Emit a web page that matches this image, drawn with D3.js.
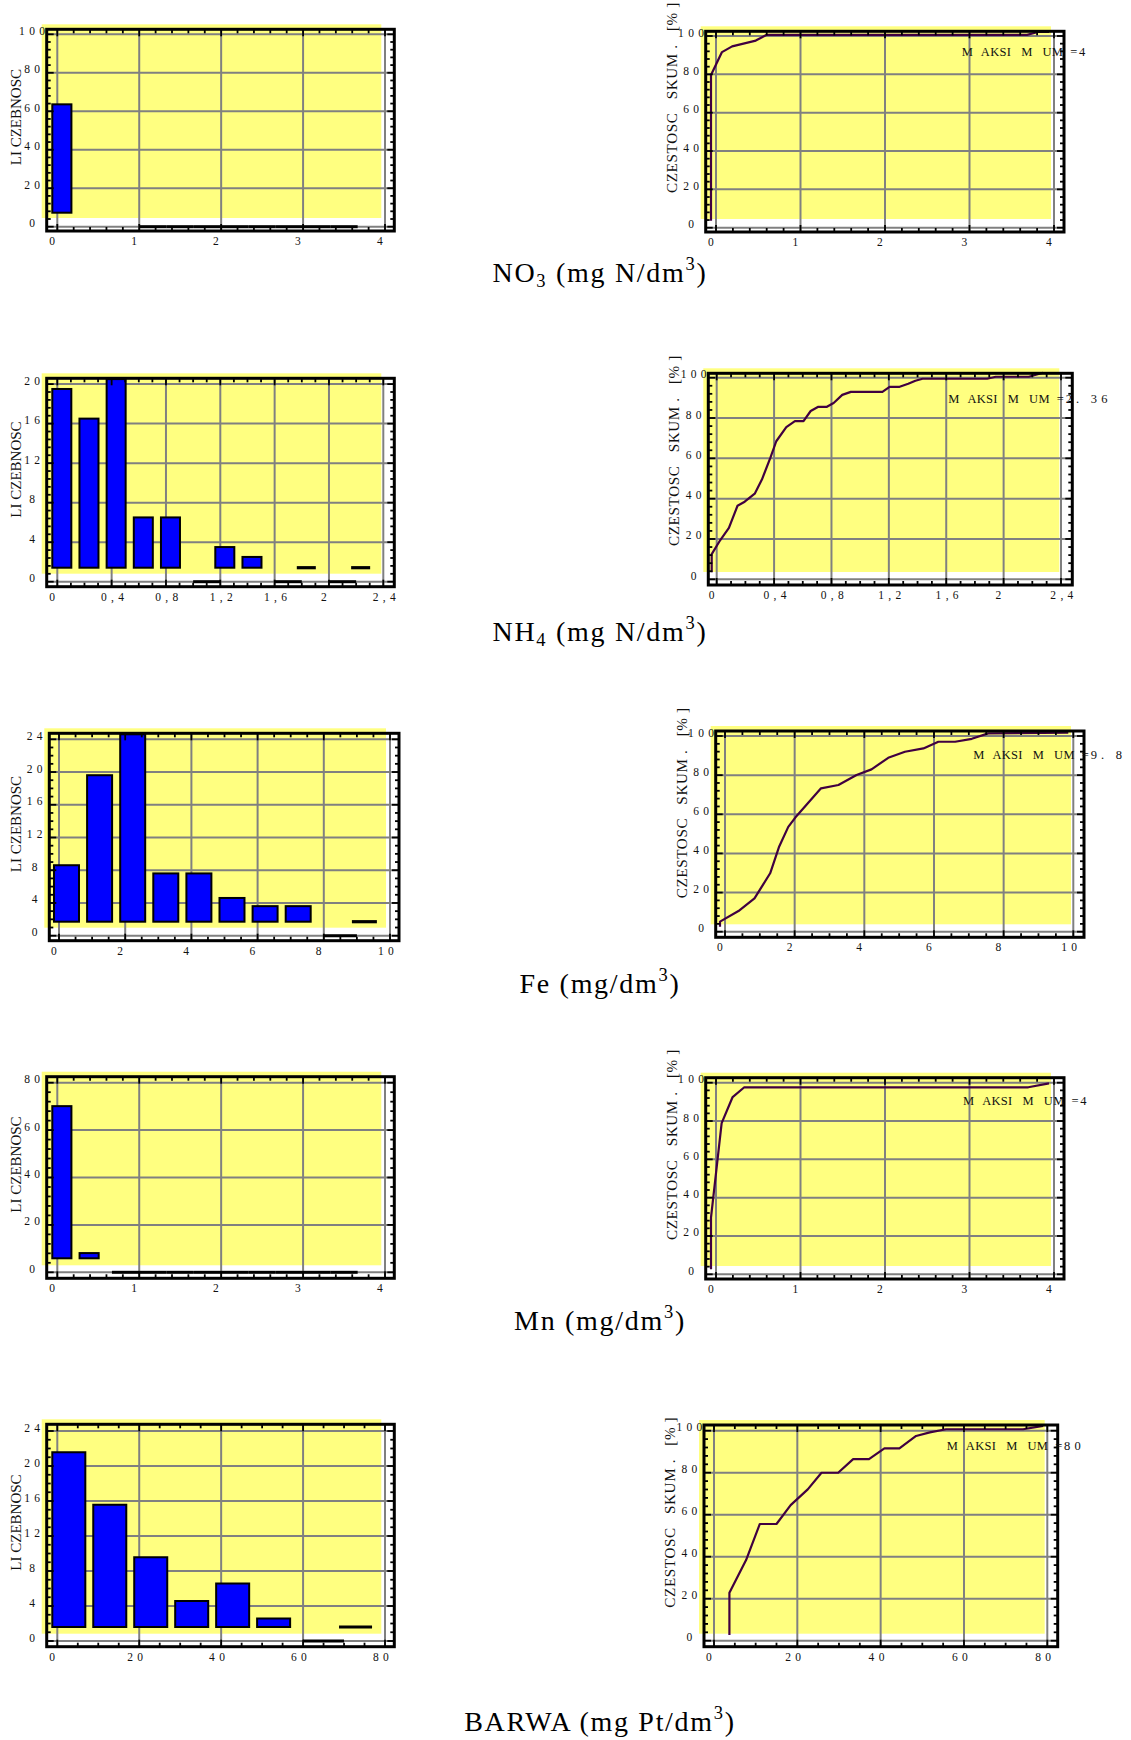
<!DOCTYPE html>
<html><head><meta charset="utf-8">
<script src="https://cdn.jsdelivr.net/npm/d3@7"></script>
<style>
html,body{margin:0;padding:0;background:#fff;}
svg{display:block;}
text{font-family:"Liberation Serif","Times New Roman",serif;white-space:pre;}
</style></head><body>
<svg id="chart" width="1131" height="1740"></svg>
<script>
// ================= DATA =================
// histogram bins (lower edges) and counts (null = bin not drawn)
const no3BinEdges = [0, 0.333, 0.667, 1, 1.333, 1.667, 2, 2.333, 2.667, 3, 3.333, 3.667];
const no3Counts   = [61, null, null, 0, 0, 0, 0, 0, 0, 0, 0, null];
const nh4BinEdges = [0, 0.2, 0.4, 0.6, 0.8, 1.0, 1.2, 1.4, 1.6, 1.8, 2.0, 2.2];
const nh4Counts   = [19, 16, 20, 6, 6, 0, 3, 2, 0, 1, 0, 1];
const feBinEdges  = [0, 1, 2, 3, 4, 5, 6, 7, 8, 9];
const feCounts    = [8, 19, 24, 7, 7, 4, 3, 3, 0, 1];
const mnBinEdges  = [0, 0.333, 0.667, 1, 1.333, 1.667, 2, 2.333, 2.667, 3, 3.333, 3.667];
const mnCounts    = [68, 6, 0, 0, 0, 0, 0, 0, 0, 0, 0, null];
const barwaBinEdges = [0, 10, 20, 30, 40, 50, 60, 70];
const barwaCounts   = [21, 15, 9, 4, 6, 2, 0, 1];

// cumulative frequency curves [%]
const no3CumX = [0, 0, 0.13, 0.25, 0.53, 0.66, 3.74, 3.87, 4.0];
const no3CumY = [1, 77, 89, 92, 95, 98, 98, 99.5, 99.5];
const nh4CumX = [0, 0, 0.06, 0.12, 0.18, 0.23, 0.3, 0.35, 0.41, 0.45, 0.52, 0.58, 0.64, 0.69, 0.74, 0.8, 0.85, 0.91, 0.97, 1.19, 1.24, 1.31, 1.37, 1.42, 1.47, 1.92, 1.98, 2.21, 2.31];
const nh4CumY = [1, 10, 17, 23, 34, 36, 40, 47, 58, 66, 73, 76, 76, 81, 83, 83, 85, 89, 90.5, 90.5, 93, 93, 94.5, 96, 97, 97, 98, 98, 100];
const feCumX = [0, 0, 0.53, 0.99, 1.44, 1.7, 1.96, 2.2, 2.9, 3.4, 3.92, 4.35, 4.83, 5.31, 5.84, 6.27, 6.75, 7.23, 7.7, 10.0];
const feCumY = [0, 2.6, 8, 14.5, 27.3, 41, 51, 56.6, 70.7, 72.4, 77.5, 80.4, 86.3, 89.4, 91.1, 94.5, 94.5, 96, 98.8, 99.1];
const mnCumX = [0, 0, 0.126, 0.256, 0.394, 3.755, 4.0];
const mnCumY = [0, 27, 76.3, 89.9, 95, 95, 97];
const barwaCumX = [4.9, 4.9, 8.9, 12.2, 16.2, 19.6, 23.7, 27.0, 31.0, 34.6, 38.4, 42.1, 45.7, 49.7, 53.0, 56.9, 75.4, 80.2];
const barwaCumY = [0.3, 20.5, 36, 53.2, 53.2, 62.2, 69.7, 77.6, 77.6, 84.1, 84.1, 89.2, 89.2, 95.1, 96.8, 98.3, 98.3, 99.9];

// axis ticks and labels
const no3XTicks = [0, 1, 2, 3, 4];            const no3XLabels = ["0","1","2","3","4"];
const nh4XTicks = [0, 0.4, 0.8, 1.2, 1.6, 2, 2.4]; const nh4XLabels = ["0","0,4","0,8","1,2","1,6","2","2,4"];
const feXTicks  = [0, 2, 4, 6, 8, 10];         const feXLabels  = ["0","2","4","6","8","10"];
const mnXTicks  = [0, 1, 2, 3, 4];             const mnXLabels  = ["0","1","2","3","4"];
const barwaXTicks = [0, 20, 40, 60, 80];       const barwaXLabels = ["0","20","40","60","80"];
const no3HistYTicks = [0, 20, 40, 60, 80, 100];
const nh4HistYTicks = [0, 4, 8, 12, 16, 20];
const feHistYTicks  = [0, 4, 8, 12, 16, 20, 24];
const mnHistYTicks  = [0, 20, 40, 60, 80];
const barwaHistYTicks = [0, 4, 8, 12, 16, 20, 24];
const cumYTicks = [0, 20, 40, 60, 80, 100];

const maxLabels = ["4", "2. 36", "9. 8", "4", "80"];
const histYTitle = "LI CZEBNOSC";
const cumYTitle = "CZESTOSC   SKUM .   [% ]";
const maxWords = ["M", " AKSI", " M", " UM", " ="];
const titles = [
  [["NO",""],["3","sub"],[" (mg N/dm",""],["3","sup"],[")",""]],
  [["NH",""],["4","sub"],[" (mg N/dm",""],["3","sup"],[")",""]],
  [["Fe (mg/dm",""],["3","sup"],[")",""]],
  [["Mn (mg/dm",""],["3","sup"],[")",""]],
  [["BARWA (mg Pt/dm",""],["3","sup"],[")",""]]
];

// ================= LAYOUT =================
const panels = [
  {edges:no3BinEdges, counts:no3Counts, bw:0.3333, barFrac:0.7,
   xT:no3XTicks, xL:no3XLabels, hyT:no3HistYTicks, hxSub:5, hySub:5, cxSub:5,
   cumX:no3CumX, cumY:no3CumY,
   hist:{l:46.7,t:29.3,r:394.3,b:231, x0:57.3,x1:385, y0:226.7,y1:34.3},
   cdf:{l:705.7,t:31.3,r:1064,b:232, x0:716,x1:1054, y0:227.7,y1:36},
   maxPos:[961.7,56], titleY:281.7},
  {edges:nh4BinEdges, counts:nh4Counts, bw:0.2, barFrac:0.7,
   xT:nh4XTicks, xL:nh4XLabels, hyT:nh4HistYTicks, hxSub:4, hySub:5, cxSub:4,
   cumX:nh4CumX, cumY:nh4CumY,
   hist:{l:46.7,t:378.3,r:394.3,b:586.7, x0:57.3,x1:383.3, y0:581.7,y1:384.1},
   cdf:{l:708.3,t:373.3,r:1072.3,b:585, x0:716.7,x1:1061, y0:579.3,y1:377.7},
   maxPos:[948.3,402.5], titleY:641},
  {edges:feBinEdges, counts:feCounts, bw:1, barFrac:0.755,
   xT:feXTicks, xL:feXLabels, hyT:feHistYTicks, hxSub:4, hySub:4, cxSub:4,
   cumX:feCumX, cumY:feCumY,
   hist:{l:49.3,t:733.3,r:399,b:940.7, x0:59,x1:390, y0:935.7,y1:739.3},
   cdf:{l:715.7,t:731,r:1084,b:937.3, x0:725,x1:1073.3, y0:931.7,y1:736},
   maxPos:[973.3,758.5], titleY:993},
  {edges:mnBinEdges, counts:mnCounts, bw:0.3333, barFrac:0.7,
   xT:mnXTicks, xL:mnXLabels, hyT:mnHistYTicks, hxSub:5, hySub:5, cxSub:5,
   cumX:mnCumX, cumY:mnCumY,
   hist:{l:46.7,t:1076.7,r:394.3,b:1278.3, x0:57.3,x1:385, y0:1272.3,y1:1082.7},
   cdf:{l:705.7,t:1077.7,r:1064,b:1279, x0:716,x1:1054, y0:1274.3,y1:1082.7},
   maxPos:[963,1104.5], titleY:1330},
  {edges:barwaBinEdges, counts:barwaCounts, bw:10, barFrac:0.806,
   xT:barwaXTicks, xL:barwaXLabels, hyT:barwaHistYTicks, hxSub:4, hySub:4, cxSub:4,
   cumX:barwaCumX, cumY:barwaCumY,
   hist:{l:46.7,t:1424.3,r:394.3,b:1646.7, x0:57.3,x1:385, y0:1641,y1:1431},
   cdf:{l:704,t:1425,r:1057.7,b:1646.7, x0:714,x1:1047.3, y0:1640.7,y1:1430.7},
   maxPos:[946.7,1449.5], titleY:1731}
];
const maxGaps = [0, 5, 6.5, 6.5, 3.5];

const GRID = '#808080', YEL = '#ffff80', LINEC = '#400040', BAR = '#0000ff', TXT = '#111';
const svg = d3.select('#chart');

function background(g, P, xs, ys, xTicks, yTicks) {
  g.append('rect').attr('x', P.l - 5).attr('y', P.t - 5)
    .attr('width', P.r - P.l - 8).attr('height', P.b - P.t - 8).attr('fill', YEL);
  g.append('g').selectAll('line').data(xTicks).join('line')
    .attr('x1', d => xs(d)).attr('x2', d => xs(d)).attr('y1', P.t).attr('y2', P.b)
    .attr('stroke', GRID).attr('stroke-width', 2);
  g.append('g').selectAll('line').data(yTicks).join('line')
    .attr('y1', d => ys(d)).attr('y2', d => ys(d)).attr('x1', P.l).attr('x2', P.r)
    .attr('stroke', GRID).attr('stroke-width', 2);
}

function frameAndTicks(g, P, xs, ys, xTicks, yTicks, xSub, ySub) {
  g.append('rect').attr('x', P.l).attr('y', P.t).attr('width', P.r - P.l).attr('height', P.b - P.t)
    .attr('fill', 'none').attr('stroke', '#000').attr('stroke-width', 3);
  const xStep = (xTicks[1] - xTicks[0]) / xSub;
  const yStep = (yTicks[1] - yTicks[0]) / ySub;
  const xm = d3.range(-2 * xSub, (xTicks.length + 2) * xSub).map(i => ({v: xTicks[0] + i * xStep, major: i % xSub === 0}))
    .filter(d => xs(d.v) > P.l + 2 && xs(d.v) < P.r - 2);
  const ym = d3.range(-2 * ySub, (yTicks.length + 2) * ySub).map(i => ({v: yTicks[0] + i * yStep, major: i % ySub === 0}))
    .filter(d => ys(d.v) > P.t + 2 && ys(d.v) < P.b - 2);
  const tg = g.append('g').attr('stroke', '#000').attr('stroke-width', 1.8);
  tg.selectAll('.tt').data(xm).join('line').attr('x1', d => xs(d.v)).attr('x2', d => xs(d.v))
    .attr('y1', P.t).attr('y2', d => P.t + (d.major ? 7 : 4));
  tg.selectAll('.tb').data(xm).join('line').attr('x1', d => xs(d.v)).attr('x2', d => xs(d.v))
    .attr('y1', P.b).attr('y2', d => P.b - (d.major ? 7 : 4));
  tg.selectAll('.tl').data(ym).join('line').attr('y1', d => ys(d.v)).attr('y2', d => ys(d.v))
    .attr('x1', P.l).attr('x2', d => P.l + (d.major ? 7 : 4));
  tg.selectAll('.tr').data(ym).join('line').attr('y1', d => ys(d.v)).attr('y2', d => ys(d.v))
    .attr('x1', P.r).attr('x2', d => P.r - (d.major ? 7 : 4));
}

function tickLabels(g, P, xs, ys, xTicks, xLabels, yTicks) {
  g.append('g').selectAll('text').data(xTicks).join('text')
    .attr('x', d => xs(d)).attr('y', P.b + 14)
    .attr('dx', (d, i) => xLabels[i].includes(',') ? 3 : (xLabels[i].length === 1 ? -3 : -2))
    .attr('text-anchor', 'middle').attr('font-size', 11.5).attr('letter-spacing', 4.3)
    .attr('fill', TXT).text((d, i) => xLabels[i]);
  g.append('g').selectAll('text').data(yTicks).join('text')
    .attr('x', P.l - 12.5).attr('y', d => ys(d) + 0.5)
    .attr('text-anchor', 'middle').attr('font-size', 11.5).attr('letter-spacing', 4.3)
    .attr('fill', TXT).text(d => String(d));
}

panels.forEach((p, k) => {
  // ---------- histogram ----------
  {
    const P = p.hist;
    const xs = d3.scaleLinear().domain([p.xT[0], p.xT[p.xT.length - 1]]).range([P.x0, P.x1]);
    const ys = d3.scaleLinear().domain([0, p.hyT[p.hyT.length - 1]]).range([P.y0, P.y1]);
    const g = svg.append('g');
    background(g, P, xs, ys, p.xT, p.hyT);
    const binPx = xs(p.bw) - xs(0);
    const barW = binPx * p.barFrac;
    const baseY = ys(0) - 9;
    const bins = p.edges.map((e, i) => ({e, c: p.counts[i]}));
    // empty bins: thick line on the zero line
    g.append('g').selectAll('line').data(bins.filter(d => d.c === 0)).join('line')
      .attr('x1', d => xs(d.e)).attr('x2', d => xs(d.e + p.bw))
      .attr('y1', ys(0)).attr('y2', ys(0)).attr('stroke', '#000').attr('stroke-width', 3);
    const dl = g.append('g').attr('transform', 'translate(-5,-5)');
    dl.selectAll('rect').data(bins.filter(d => d.c != null && d.c > 1)).join('rect')
      .attr('x', d => xs(d.e)).attr('width', barW)
      .attr('y', d => ys(d.c)).attr('height', d => baseY - ys(d.c))
      .attr('fill', BAR).attr('stroke', '#000').attr('stroke-width', 2);
    dl.selectAll('line').data(bins.filter(d => d.c === 1)).join('line')
      .attr('x1', d => xs(d.e)).attr('x2', d => xs(d.e) + barW)
      .attr('y1', baseY).attr('y2', baseY).attr('stroke', '#000').attr('stroke-width', 3.2);
    frameAndTicks(g, P, xs, ys, p.xT, p.hyT, p.hxSub, p.hySub);
    tickLabels(g, P, xs, ys, p.xT, p.xL, p.hyT);
    g.append('text').attr('transform', `translate(20.5,${(P.t + P.b) / 2 - 13}) rotate(-90)`)
      .attr('text-anchor', 'middle').attr('font-size', 15).attr('fill', TXT).text(histYTitle);
  }
  // ---------- cumulative curve ----------
  {
    const P = p.cdf;
    const xs = d3.scaleLinear().domain([p.xT[0], p.xT[p.xT.length - 1]]).range([P.x0, P.x1]);
    const ys = d3.scaleLinear().domain([0, 100]).range([P.y0, P.y1]);
    const g = svg.append('g');
    background(g, P, xs, ys, p.xT, cumYTicks);
    const pts = p.cumX.map((x, i) => [x, p.cumY[i]]);
    g.append('path').attr('transform', 'translate(-5,-5)')
      .attr('d', d3.line().x(d => xs(d[0])).y(d => ys(d[1]))(pts))
      .attr('fill', 'none').attr('stroke', LINEC).attr('stroke-width', 2.2).attr('stroke-linejoin', 'round');
    frameAndTicks(g, P, xs, ys, p.xT, cumYTicks, p.cxSub, 5);
    tickLabels(g, P, xs, ys, p.xT, p.xL, cumYTicks);
    g.append('text').attr('transform', `translate(${P.l - 29},${P.b - 39}) rotate(-90)`)
      .attr('text-anchor', 'start').attr('font-size', 15.2).attr('letter-spacing', 0.6)
      .attr('fill', TXT).text(cumYTitle);
    const mt = g.append('text').attr('x', p.maxPos[0]).attr('y', p.maxPos[1])
      .attr('font-size', 12.5).attr('letter-spacing', 0.3).attr('fill', TXT);
    maxWords.forEach((w, i) => mt.append('tspan').attr('dx', maxGaps[i]).text(w));
    mt.append('tspan').attr('dx', 1.5).attr('letter-spacing', 4.2).text(maxLabels[k]);
  }
  // ---------- title ----------
  const t = svg.append('text').attr('x', 600).attr('y', p.titleY).attr('text-anchor', 'middle')
    .attr('font-size', 28).attr('letter-spacing', 1.7).attr('fill', '#000');
  let shift = 0;
  titles[k].forEach(([s, kind]) => {
    const target = kind === 'sub' ? 5 : kind === 'sup' ? -12 : 0;
    const ts = t.append('tspan').attr('dy', target - shift).text(s);
    if (kind) ts.attr('font-size', 18.5);
    shift = target;
  });
});
</script>
</body></html>
